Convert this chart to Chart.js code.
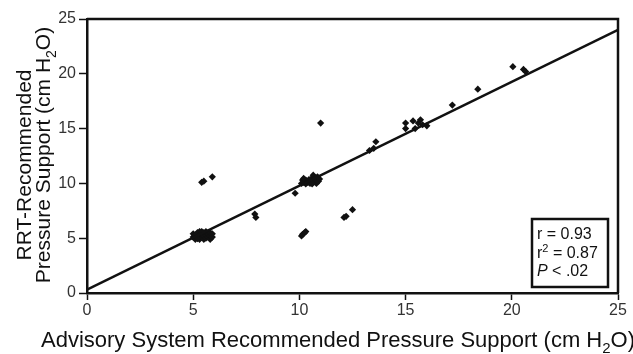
<!DOCTYPE html>
<html>
<head>
<meta charset="utf-8">
<script src="https://cdn.jsdelivr.net/npm/chart.js@4.4.1/dist/chart.umd.min.js"></script>
<style>
  html, body { margin: 0; padding: 0; background: #fff; }
  #wrap { width: 633px; height: 354px; }
</style>
</head>
<body>
<div id="wrap"><canvas id="scatterChart" width="633" height="354"></canvas></div>
<script>
// advisory system (x) vs RRT (y) recommended pressure support, cm H2O
const advisoryPS = [
    5.0, 5.0, 5.1, 5.1, 5.2, 5.2, 5.3, 5.3, 5.3, 5.4, 5.4, 5.5, 5.5, 5.5, 5.6, 5.6, 5.6,
    5.7, 5.7, 5.8, 5.8, 5.8, 5.9, 5.9, 5.4, 5.2,
    5.4, 5.5, 5.9,
    7.9, 7.95,
    9.8,
    10.1, 10.15, 10.25, 10.3,
    10.1, 10.15, 10.2, 10.3, 10.3, 10.4, 10.45, 10.5, 10.55, 10.6, 10.65, 10.7, 10.75,
    10.8, 10.8, 10.85, 10.9, 10.95, 10.6, 10.2,
    11.0,
    12.1, 12.2, 12.5,
    13.3, 13.5, 13.6,
    15.0, 15.0, 15.35, 15.45, 15.7, 15.8, 16.0, 15.6,
    17.2, 18.4,
    20.05, 20.55, 20.65
];
const rrtPS = [
    5.1, 5.4, 4.9, 5.3, 5.1, 5.5, 4.9, 5.3, 5.6, 5.1, 5.4, 4.9, 5.2, 5.5, 5.0, 5.3, 5.6,
    5.1, 5.4, 4.9, 5.2, 5.5, 5.1, 5.4, 5.6, 4.95,
    10.1, 10.2, 10.6,
    7.2, 6.9,
    9.1,
    5.2, 5.35, 5.5, 5.6,
    10.0, 10.3, 10.1, 9.95, 10.3, 10.1, 10.35, 10.0, 10.2, 10.5, 10.75, 10.2, 10.5,
    10.0, 10.3, 10.6, 10.2, 10.4, 9.95, 10.45,
    15.5,
    6.9, 7.0, 7.6,
    13.0, 13.2, 13.8,
    15.5, 15.0, 15.7, 15.0, 15.8, 15.35, 15.25, 15.5,
    17.15, 18.6,
    20.65, 20.4, 20.2
];

// regression line end points
const fitX = [0, 25];
const fitY = [0.3, 24.0];

const axisTicks = [0, 5, 10, 15, 20, 25];
const statLines = [
    [['r = 0.93', '']],
    [['r', ''], ['2', 'sup'], [' = 0.87', '']],
    [['P', 'it'], [' < .02', '']]
];
const xTitle = [['Advisory System Recommended Pressure Support (cm H', ''], ['2', 'sub'], ['O)', '']];
const yTitle1 = [['RRT-Recommended', '']];
const yTitle2 = [['Pressure Support (cm H', ''], ['2', 'sub'], ['O)', '']];

const FONT = "'Liberation Sans', Arial, sans-serif";
const INK = '#111';

function partFont(mode, size) {
    if (mode === 'sub' || mode === 'sup') return Math.round(size * 0.68) + 'px ' + FONT;
    if (mode === 'it') return 'italic ' + size + 'px ' + FONT;
    return size + 'px ' + FONT;
}

// draws a line of mixed text (sub/superscript, italic); align 'left' or 'center'
function drawRich(ctx, parts, x, y, size, align) {
    let total = 0;
    parts.forEach(p => { ctx.font = partFont(p[1], size); total += ctx.measureText(p[0]).width; });
    let cx = align === 'center' ? x - total / 2 : x;
    ctx.textAlign = 'left';
    ctx.textBaseline = 'alphabetic';
    parts.forEach(p => {
        ctx.font = partFont(p[1], size);
        let dy = 0;
        if (p[1] === 'sub') dy = size * 0.28;
        if (p[1] === 'sup') dy = -size * 0.36;
        ctx.fillText(p[0], cx, y + dy);
        cx += ctx.measureText(p[0]).width;
    });
}

const decorPlugin = {
    id: 'decor',
    afterDraw(chart) {
        const ctx = chart.ctx;
        const a = chart.chartArea;
        ctx.save();
        ctx.fillStyle = INK;
        ctx.strokeStyle = INK;

        // frame (top and right sides)
        ctx.lineWidth = 2.5;
        ctx.beginPath();
        ctx.moveTo(a.left, a.top);
        ctx.lineTo(a.right, a.top);
        ctx.lineTo(a.right, a.bottom);
        ctx.stroke();

        // stats box
        ctx.lineWidth = 2.5;
        ctx.strokeRect(532, 219, 76, 68);
        statLines.forEach((ln, i) => drawRich(ctx, ln, 537, 239 + i * 18.5, 16, 'left'));

        // axis titles
        drawRich(ctx, xTitle, 338, 347, 22, 'center');

        ctx.save();
        ctx.translate(31, 165);
        ctx.rotate(-Math.PI / 2);
        drawRich(ctx, yTitle1, 0, 0, 21, 'center');
        ctx.restore();

        ctx.save();
        ctx.translate(50, 155);
        ctx.rotate(-Math.PI / 2);
        drawRich(ctx, yTitle2, 0, 0, 21, 'center');
        ctx.restore();

        ctx.restore();
    }
};

const tickFont = { family: FONT, size: 16 };

const ctx = document.getElementById('scatterChart').getContext('2d');
new Chart(ctx, {
    type: 'scatter',
    data: {
        datasets: [
            {
                type: 'line',
                data: fitX.map((x, i) => ({ x: x, y: fitY[i] })),
                borderColor: INK,
                borderWidth: 2.5,
                pointRadius: 0,
                fill: false
            },
            {
                data: advisoryPS.map((x, i) => ({ x: x, y: rrtPS[i] })),
                pointStyle: 'rectRot',
                pointRadius: 3.6,
                backgroundColor: INK,
                borderColor: INK,
                borderWidth: 0
            }
        ]
    },
    options: {
        responsive: false,
        animation: false,
        layout: { padding: { top: 19, right: 15, left: 0, bottom: 0 } },
        plugins: {
            legend: { display: false },
            tooltip: { enabled: false }
        },
        scales: {
            x: {
                type: 'linear',
                min: 0,
                max: 25,
                afterBuildTicks: s => { s.ticks = axisTicks.map(v => ({ value: v })); },
                ticks: { color: '#333', font: tickFont, padding: 1, maxRotation: 0 },
                grid: { drawOnChartArea: false, drawTicks: true, tickLength: 7, tickWidth: 1.5, tickColor: INK },
                border: { display: true, width: 2.5, color: INK },
                afterFit: s => { s.height = 61; }
            },
            y: {
                type: 'linear',
                min: 0,
                max: 25,
                afterBuildTicks: s => { s.ticks = axisTicks.map(v => ({ value: v })); },
                ticks: { color: '#333', font: tickFont, padding: 3 },
                grid: { drawOnChartArea: false, drawTicks: true, tickLength: 8, tickWidth: 1.5, tickColor: INK },
                border: { display: true, width: 2.5, color: INK },
                afterFit: s => { s.width = 87; }
            }
        }
    },
    plugins: [decorPlugin]
});
</script>
</body>
</html>
